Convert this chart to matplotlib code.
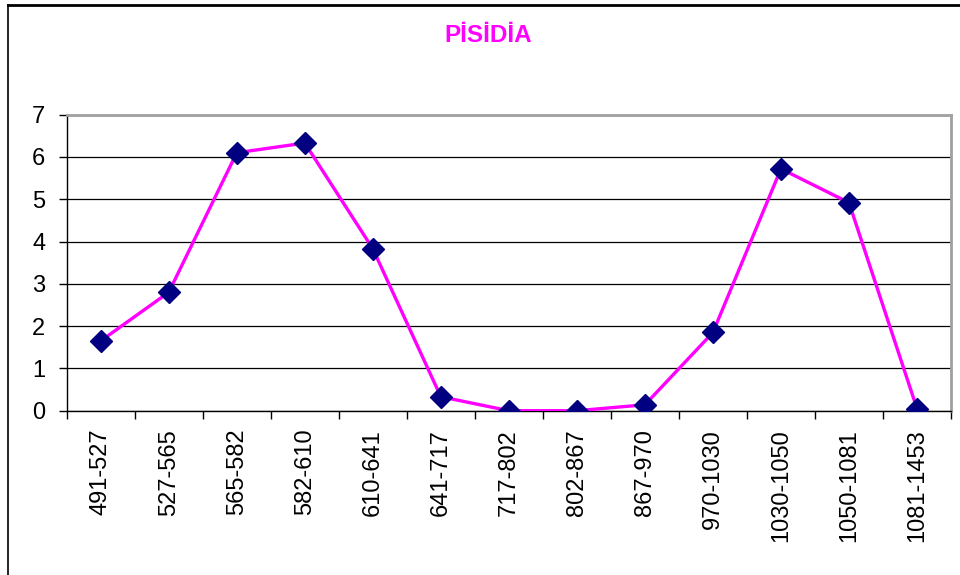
import matplotlib
matplotlib.use("Agg")
import matplotlib.pyplot as plt
from matplotlib.lines import Line2D
import numpy as np

periods = ["491-527", "527-565", "565-582", "582-610", "610-641", "641-717",
           "717-802", "802-867", "867-970", "970-1030", "1030-1050",
           "1050-1081", "1081-1453"]
values = [1.65, 2.8, 6.1, 6.33, 3.83, 0.33, 0.0, 0.0, 0.14, 1.85, 5.72, 4.92, 0.05]
title = "PİSİDİA"

plt.rcParams['font.family'] = ['Liberation Sans', 'DejaVu Sans']

fig = plt.figure(figsize=(9.6, 5.75), dpi=100)
ax = fig.add_axes([66.7 / 960, 1 - 410.7 / 575, (951 - 66.7) / 960, (410.7 - 114.7) / 575])

x = np.arange(len(periods))
ax.plot(x, values, color="#ff00ff", linewidth=2.4, marker="D", markersize=11,
        markerfacecolor="#000080", markeredgecolor="#000080", zorder=3)

ax.set_xlim(-0.5, len(periods) - 0.5)
ax.set_ylim(0, 7)
ax.set_yticks(range(0, 8))
ax.yaxis.grid(True, color="black", linewidth=0.9)
ax.set_axisbelow(True)

# category labels at centres, tick marks at boundaries
ax.set_xticks(x)
ax.set_xticklabels(periods, rotation=90)
ax.set_xticks(np.arange(len(periods) + 1) - 0.5, minor=True)
ax.tick_params(axis="x", which="major", length=0, pad=13, labelsize=17)
ax.tick_params(axis="x", which="minor", length=6, width=1, direction="out")
ax.tick_params(axis="y", length=6, width=1, pad=9.5, labelsize=17)

for side in ["top", "right"]:
    ax.spines[side].set_color("#a0a0a0")
    ax.spines[side].set_linewidth(2)
for side in ["left", "bottom"]:
    ax.spines[side].set_color("black")
    ax.spines[side].set_linewidth(1)

fig.text(488 / 960, 1 - 36 / 575, title, color="#ff00ff", fontsize=17.5,
         fontweight="bold", ha="center", va="center")

# outer chart border (left and top only visible)
fig.add_artist(Line2D([8 / 960, 8 / 960], [0, 1 - 4.5 / 575], color="black",
                      linewidth=1.2, transform=fig.transFigure))
fig.add_artist(Line2D([8 / 960, 1], [1 - 4.5 / 575, 1 - 4.5 / 575], color="black",
                      linewidth=2, transform=fig.transFigure))

fig.savefig("out.png", dpi=100, facecolor="white")
